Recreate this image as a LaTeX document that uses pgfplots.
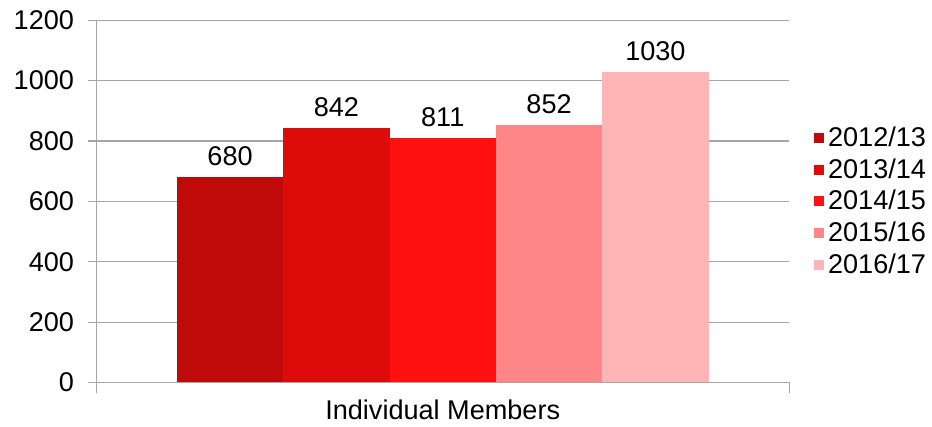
\documentclass[border=0pt]{standalone}
\usepackage{fontspec}
\setmainfont{Liberation Sans}
\usepackage{pgfplots}
\pgfplotsset{compat=1.18}

\definecolor{cA}{HTML}{C00A0A}
\definecolor{cB}{HTML}{DE0B0B}
\definecolor{cC}{HTML}{FF1111}
\definecolor{cD}{HTML}{FF8686}
\definecolor{cE}{HTML}{FFB4B6}
\definecolor{gridc}{HTML}{A6A6A6}

\begin{document}
\begin{tikzpicture}
\begin{axis}[
  scale only axis, width=345.5pt, height=180.5pt,
  xmin=-1, xmax=1, ymin=0, ymax=1200,
  ytick={0,200,...,1200},
  xtick={0}, xticklabels={Individual Members},
  xtick style={draw=none},
  extra x ticks={-1,1}, extra x tick labels={},
  extra x tick style={xtick style={draw=gridc, line width=0.6pt}, major tick length=5pt, grid=none},
  ymajorgrids, grid style={gridc, line width=0.6pt},
  axis x line*=bottom, axis y line*=left,
  axis line style={gridc, line width=0.6pt},
  y axis line style={-},
  x axis line style={-},
  tick style={gridc, line width=0.6pt},
  tick align=outside, major tick length=4pt,
  ticklabel style={font=\fontsize{13.5}{15}\selectfont},
  /pgf/number format/assume math mode=true,
  /pgf/number format/1000 sep={},
  yticklabel style={xshift=-3.5pt},
  xticklabel style={yshift=-1pt},
  ybar=0pt, bar width=53pt,
  nodes near coords,
  every node near coord/.append style={font=\fontsize{13.5}{15}\selectfont, black, yshift=2pt},
  legend style={at={(1.035,0.5)}, anchor=west, draw=none, fill=none,
    font=\fontsize{13.5}{15}\selectfont, row sep=0.5pt,
    legend cell align=left, inner sep=0pt,
    /tikz/every even column/.append style={column sep=1pt}},
  legend image code/.code={\fill[#1] (0pt,-2.5pt) rectangle (5pt,2.5pt);},
]
\addplot[fill=cA, draw=none] coordinates {(0,680)};
\addplot[fill=cB, draw=none] coordinates {(0,842)};
\addplot[fill=cC, draw=none] coordinates {(0,811)};
\addplot[fill=cD, draw=none] coordinates {(0,852)};
\addplot[fill=cE, draw=none] coordinates {(0,1030)};
\legend{2012/13,2013/14,2014/15,2015/16,2016/17}
\end{axis}
\path (current bounding box.north west) ++(-3.5pt,2pt);
\path (current bounding box.south east) ++(1pt,0pt);
\end{tikzpicture}
\end{document}
